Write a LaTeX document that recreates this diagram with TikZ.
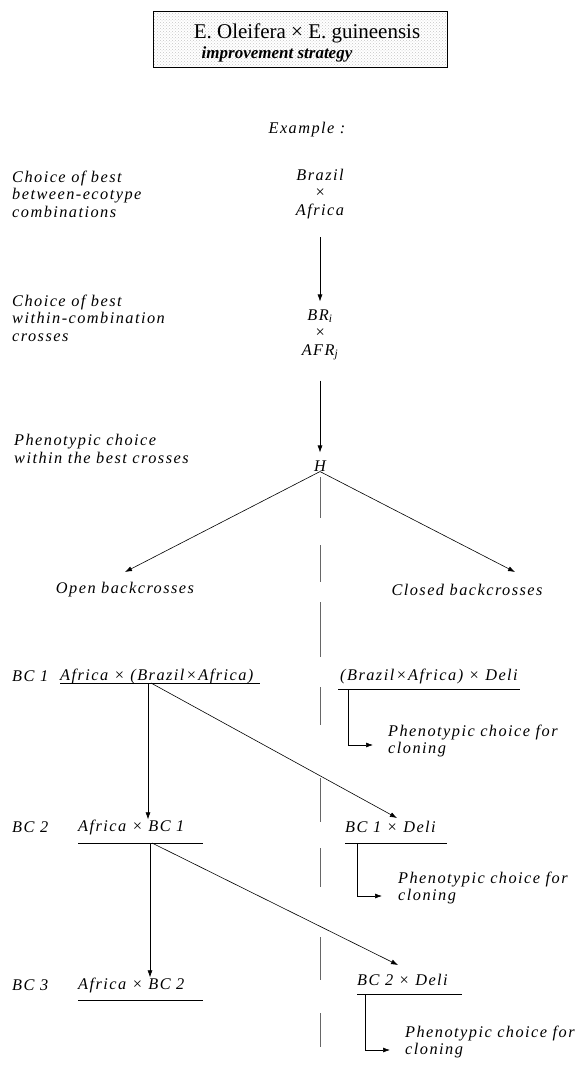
\documentclass[tikz,border=0pt]{standalone}
\usepackage{fontspec}
\setmainfont{Liberation Serif}
\usetikzlibrary{arrows.meta,patterns}
\newcommand{\tx}{\itshape\fontsize{16.3}{17.5}\selectfont\addfontfeatures{LetterSpace=9}}
\begin{document}
\begin{tikzpicture}[x=1pt,y=-1pt,
  lbl/.style={font=\tx, inner sep=0pt, anchor=west, align=left},
  ctr/.style={font=\tx, inner sep=0pt, align=center},
  arr/.style={-{Latex[length=7pt,width=5pt]}, line width=0.6pt},
  ln/.style={line width=0.7pt},
  dsh/.style={line width=0.9pt, gray!80!black}]
\useasboundingbox (0,0) rectangle (584,1068);
% title box
\path[pattern=crosshatch dots, pattern color=gray!45] (153,11) rectangle (447,67);
\draw[line width=0.8pt] (153,11) rectangle (447,67);
\node[inner sep=1pt, font=\fontsize{21}{23}\selectfont] (t1) at (307,33) {E. Oleifera × E. guineensis};
\node[inner sep=1pt, font=\itshape\bfseries\fontsize{17}{19}\selectfont] (t2) at (277,54) {improvement strategy};
\node[ctr] (ex) at (307,130) {Example :};
% left labels
\node[lbl] (l1) at (12,194) {Choice of best\\between-ecotype\\combinations};
\node[lbl] (l2) at (12,318) {Choice of best\\within-combination\\crosses};
\node[lbl] (l3) at (14,449) {Phenotypic choice\\within the best crosses};
% centre column
\node[ctr] (bra) at (320,194) {Brazil\\×\\Africa};
\node[ctr] (br) at (320,335) {\textit{BR}\textsubscript{\textit{i}}\\×\\\textit{AFR}\textsubscript{\textit{j}}};
\node[ctr] (h) at (320,466) {H};
\draw[arr, shorten <=18pt, shorten >=8pt] (bra.south) -- (br.north);
\draw[arr, shorten <=20pt, shorten >=8pt] (br.south) -- (h.north);
\node[ctr] (open) at (125,590) {Open backcrosses};
\node[ctr] (closed) at (467,590) {Closed backcrosses};
\coordinate (ot) at (125,572);
\coordinate (ct) at (515,572);
\draw[arr] (h.south) -- (ot);
\draw[arr] (h.south) -- (ct);
% dashed divider
\foreach \a/\b in {477/518,545/582,602/657,687/725,778/822,848/887,937/980,1013/1047}
  \draw[dsh] (320,\a) -- (320,\b);
% BC 1
\node[lbl] (bc1) at (12,676) {BC 1};
\node[lbl] (bc1l) at (60,676) {Africa × (Brazil×Africa)};
\node[lbl] (bc1r) at (340,676) {(Brazil×Africa) × Deli};
\coordinate (u1a) at (60,683); \coordinate (u1b) at (260,683);
\coordinate (v1a) at (338,689); \coordinate (v1b) at (520,689);
\draw[ln] (u1a) -- (u1b);
\draw[ln] (v1a) -- (v1b);
\coordinate (d1) at (148,683);
\coordinate (s1) at (151,683);
\coordinate (rb1) at (348,689);
\coordinate (rt1) at (373,745);
\node[lbl] (pc1) at (388,741) {Phenotypic choice for\\cloning};
\draw[arr] (rb1) |- (rt1);
% BC 2
\node[lbl] (bc2) at (12,827) {BC 2};
\node[lbl] (bc2l) at (78,827) {Africa × BC 1};
\node[lbl] (bc2r) at (345,827) {BC 1 × Deli};
\coordinate (u2a) at (78,843); \coordinate (u2b) at (203,843);
\coordinate (v2a) at (345,843); \coordinate (v2b) at (447,843);
\draw[ln] (u2a) -- (u2b);
\draw[ln] (v2a) -- (v2b);
\coordinate (t2tip) at (397,818);
\draw[arr] (d1) -- (d1 |- bc2l.north);
\draw[arr] (s1) -- (t2tip);
\coordinate (d2) at (150,843);
\coordinate (s2) at (152,843);
\coordinate (rb2) at (357,843);
\coordinate (rt2) at (382,896);
\node[lbl] (pc2) at (398,888) {Phenotypic choice for\\cloning};
\draw[arr] (rb2) |- (rt2);
% BC 3
\node[lbl] (bc3) at (12,985) {BC 3};
\node[lbl] (bc3l) at (78,985) {Africa × BC 2};
\node[lbl] (bc3r) at (357,980) {BC 2 × Deli};
\coordinate (u3a) at (78,1000); \coordinate (u3b) at (203,1000);
\coordinate (v3a) at (357,994); \coordinate (v3b) at (462,994);
\draw[ln] (u3a) -- (u3b);
\draw[ln] (v3a) -- (v3b);
\coordinate (t3tip) at (398,965);
\draw[arr] (d2) -- (d2 |- bc3l.north);
\draw[arr] (s2) -- (t3tip);
\coordinate (rb3) at (365,994);
\coordinate (rt3) at (390,1050);
\node[lbl] (pc3) at (405,1042) {Phenotypic choice for\\cloning};
\draw[arr] (rb3) |- (rt3);
\end{tikzpicture}
\end{document}
